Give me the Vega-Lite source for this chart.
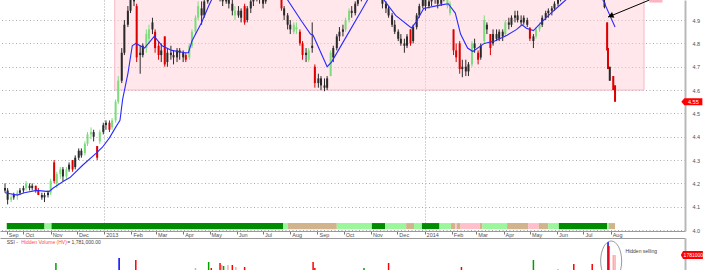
{
"$schema":"https://vega.github.io/schema/vega-lite/v6.json",
"padding":0,
"background":"white",
"spacing":7,
"bounds":"flush",
"config":{"view":{"stroke":null},"font":"Liberation Sans","axis":{"labelFont":"Liberation Sans","labelFontSize":5.5,"labelColor":"#505050","title":null}},
"resolve":{"scale":{"color":"independent"}},
"datasets":{
"ohlc":[
{"d":"2012-09-10","o":4.18,"h":4.20,"l":4.16,"c":4.17,"t":"k"},
{"d":"2012-09-13","o":4.17,"h":4.18,"l":4.11,"c":4.13,"t":"k"},
{"d":"2012-09-17","o":4.13,"h":4.15,"l":4.12,"c":4.14,"t":"g"},
{"d":"2012-09-20","o":4.14,"h":4.16,"l":4.13,"c":4.15,"t":"k"},
{"d":"2012-09-24","o":4.15,"h":4.17,"l":4.13,"c":4.16,"t":"g"},
{"d":"2012-09-27","o":4.16,"h":4.18,"l":4.15,"c":4.17,"t":"k"},
{"d":"2012-10-01","o":4.17,"h":4.19,"l":4.16,"c":4.18,"t":"k"},
{"d":"2012-10-04","o":4.18,"h":4.21,"l":4.17,"c":4.20,"t":"g"},
{"d":"2012-10-08","o":4.19,"h":4.20,"l":4.17,"c":4.18,"t":"k"},
{"d":"2012-10-11","o":4.18,"h":4.20,"l":4.17,"c":4.19,"t":"k"},
{"d":"2012-10-15","o":4.19,"h":4.19,"l":4.16,"c":4.17,"t":"r"},
{"d":"2012-10-18","o":4.17,"h":4.18,"l":4.15,"c":4.15,"t":"r"},
{"d":"2012-10-22","o":4.15,"h":4.16,"l":4.13,"c":4.14,"t":"k"},
{"d":"2012-10-25","o":4.14,"h":4.16,"l":4.12,"c":4.15,"t":"k"},
{"d":"2012-10-29","o":4.15,"h":4.17,"l":4.14,"c":4.16,"t":"k"},
{"d":"2012-11-01","o":4.16,"h":4.22,"l":4.15,"c":4.21,"t":"g"},
{"d":"2012-11-05","o":4.29,"h":4.30,"l":4.20,"c":4.21,"t":"r"},
{"d":"2012-11-08","o":4.20,"h":4.25,"l":4.18,"c":4.24,"t":"g"},
{"d":"2012-11-12","o":4.24,"h":4.27,"l":4.22,"c":4.26,"t":"g"},
{"d":"2012-11-15","o":4.26,"h":4.27,"l":4.21,"c":4.23,"t":"k"},
{"d":"2012-11-19","o":4.23,"h":4.27,"l":4.22,"c":4.26,"t":"g"},
{"d":"2012-11-22","o":4.26,"h":4.29,"l":4.25,"c":4.28,"t":"k"},
{"d":"2012-11-26","o":4.30,"h":4.30,"l":4.25,"c":4.26,"t":"r"},
{"d":"2012-11-29","o":4.27,"h":4.32,"l":4.26,"c":4.31,"t":"k"},
{"d":"2012-12-03","o":4.31,"h":4.35,"l":4.30,"c":4.34,"t":"k"},
{"d":"2012-12-06","o":4.34,"h":4.35,"l":4.31,"c":4.32,"t":"k"},
{"d":"2012-12-10","o":4.33,"h":4.38,"l":4.32,"c":4.37,"t":"g"},
{"d":"2012-12-13","o":4.37,"h":4.42,"l":4.36,"c":4.41,"t":"g"},
{"d":"2012-12-17","o":4.41,"h":4.44,"l":4.39,"c":4.42,"t":"g"},
{"d":"2012-12-20","o":4.42,"h":4.43,"l":4.38,"c":4.40,"t":"k"},
{"d":"2012-12-24","o":4.36,"h":4.36,"l":4.30,"c":4.31,"t":"r"},
{"d":"2012-12-27","o":4.38,"h":4.43,"l":4.37,"c":4.42,"t":"g"},
{"d":"2012-12-31","o":4.42,"h":4.46,"l":4.41,"c":4.45,"t":"k"},
{"d":"2013-01-03","o":4.45,"h":4.47,"l":4.43,"c":4.46,"t":"k"},
{"d":"2013-01-07","o":4.46,"h":4.47,"l":4.42,"c":4.43,"t":"r"},
{"d":"2013-01-10","o":4.44,"h":4.48,"l":4.43,"c":4.47,"t":"g"},
{"d":"2013-01-14","o":4.47,"h":4.56,"l":4.46,"c":4.55,"t":"g"},
{"d":"2013-01-17","o":4.55,"h":4.66,"l":4.54,"c":4.64,"t":"g"},
{"d":"2013-01-21","o":4.64,"h":4.78,"l":4.63,"c":4.76,"t":"k"},
{"d":"2013-01-24","o":4.76,"h":4.90,"l":4.75,"c":4.88,"t":"k"},
{"d":"2013-01-28","o":4.88,"h":4.96,"l":4.87,"c":4.94,"t":"k"},
{"d":"2013-01-31","o":4.94,"h":5.02,"l":4.93,"c":5.00,"t":"k"},
{"d":"2013-02-04","o":5.00,"h":5.05,"l":4.96,"c":4.98,"t":"k"},
{"d":"2013-02-07","o":4.96,"h":4.97,"l":4.72,"c":4.74,"t":"r"},
{"d":"2013-02-11","o":4.76,"h":4.79,"l":4.67,"c":4.75,"t":"k"},
{"d":"2013-02-14","o":4.75,"h":4.80,"l":4.74,"c":4.79,"t":"k"},
{"d":"2013-02-18","o":4.78,"h":4.86,"l":4.76,"c":4.84,"t":"g"},
{"d":"2013-02-21","o":4.82,"h":4.88,"l":4.80,"c":4.86,"t":"g"},
{"d":"2013-02-25","o":4.86,"h":4.91,"l":4.84,"c":4.89,"t":"k"},
{"d":"2013-02-28","o":4.85,"h":4.86,"l":4.76,"c":4.78,"t":"r"},
{"d":"2013-03-04","o":4.79,"h":4.81,"l":4.73,"c":4.75,"t":"r"},
{"d":"2013-03-07","o":4.75,"h":4.80,"l":4.72,"c":4.77,"t":"k"},
{"d":"2013-03-11","o":4.83,"h":4.83,"l":4.70,"c":4.71,"t":"r"},
{"d":"2013-03-14","o":4.72,"h":4.78,"l":4.70,"c":4.76,"t":"k"},
{"d":"2013-03-18","o":4.76,"h":4.79,"l":4.73,"c":4.75,"t":"k"},
{"d":"2013-03-21","o":4.75,"h":4.77,"l":4.71,"c":4.74,"t":"k"},
{"d":"2013-03-25","o":4.74,"h":4.78,"l":4.72,"c":4.77,"t":"k"},
{"d":"2013-03-28","o":4.77,"h":4.78,"l":4.73,"c":4.76,"t":"k"},
{"d":"2013-04-01","o":4.76,"h":4.77,"l":4.72,"c":4.74,"t":"k"},
{"d":"2013-04-04","o":4.75,"h":4.76,"l":4.72,"c":4.73,"t":"r"},
{"d":"2013-04-08","o":4.74,"h":4.80,"l":4.73,"c":4.79,"t":"g"},
{"d":"2013-04-11","o":4.79,"h":4.86,"l":4.78,"c":4.85,"t":"g"},
{"d":"2013-04-15","o":4.85,"h":4.92,"l":4.84,"c":4.91,"t":"g"},
{"d":"2013-04-18","o":4.91,"h":4.98,"l":4.90,"c":4.96,"t":"g"},
{"d":"2013-04-22","o":4.95,"h":4.98,"l":4.88,"c":4.92,"t":"k"},
{"d":"2013-04-25","o":4.92,"h":5.00,"l":4.91,"c":4.98,"t":"k"},
{"d":"2013-04-29","o":4.98,"h":5.06,"l":4.97,"c":5.04,"t":"k"},
{"d":"2013-05-02","o":5.04,"h":5.08,"l":5.01,"c":5.05,"t":"k"},
{"d":"2013-05-06","o":5.05,"h":5.08,"l":5.02,"c":5.04,"t":"k"},
{"d":"2013-05-09","o":5.04,"h":5.06,"l":5.00,"c":5.02,"t":"k"},
{"d":"2013-05-13","o":5.02,"h":5.04,"l":4.98,"c":5.00,"t":"k"},
{"d":"2013-05-16","o":5.00,"h":5.02,"l":4.96,"c":4.98,"t":"k"},
{"d":"2013-05-20","o":4.98,"h":5.03,"l":4.97,"c":5.01,"t":"k"},
{"d":"2013-05-23","o":5.01,"h":5.02,"l":4.95,"c":4.97,"t":"k"},
{"d":"2013-05-27","o":4.97,"h":4.99,"l":4.92,"c":4.94,"t":"k"},
{"d":"2013-05-30","o":4.94,"h":4.96,"l":4.90,"c":4.92,"t":"g"},
{"d":"2013-06-03","o":4.92,"h":4.96,"l":4.91,"c":4.94,"t":"k"},
{"d":"2013-06-06","o":4.94,"h":4.95,"l":4.89,"c":4.91,"t":"k"},
{"d":"2013-06-10","o":4.96,"h":4.97,"l":4.88,"c":4.89,"t":"r"},
{"d":"2013-06-13","o":4.90,"h":4.96,"l":4.89,"c":4.95,"t":"k"},
{"d":"2013-06-17","o":4.95,"h":4.99,"l":4.93,"c":4.98,"t":"k"},
{"d":"2013-06-20","o":4.98,"h":5.02,"l":4.96,"c":5.00,"t":"k"},
{"d":"2013-06-24","o":5.00,"h":5.04,"l":4.98,"c":5.02,"t":"k"},
{"d":"2013-06-27","o":5.02,"h":5.03,"l":4.97,"c":5.00,"t":"k"},
{"d":"2013-07-01","o":5.00,"h":5.01,"l":4.95,"c":4.97,"t":"k"},
{"d":"2013-07-04","o":4.98,"h":5.04,"l":4.97,"c":5.03,"t":"k"},
{"d":"2013-07-08","o":5.03,"h":5.08,"l":5.02,"c":5.06,"t":"k"},
{"d":"2013-07-11","o":5.06,"h":5.09,"l":5.04,"c":5.07,"t":"k"},
{"d":"2013-07-15","o":5.07,"h":5.08,"l":5.02,"c":5.04,"t":"k"},
{"d":"2013-07-18","o":5.04,"h":5.05,"l":5.00,"c":5.01,"t":"k"},
{"d":"2013-07-22","o":4.99,"h":5.00,"l":4.94,"c":4.95,"t":"r"},
{"d":"2013-07-25","o":4.95,"h":4.96,"l":4.90,"c":4.92,"t":"k"},
{"d":"2013-07-29","o":4.92,"h":4.93,"l":4.86,"c":4.88,"t":"k"},
{"d":"2013-08-01","o":4.88,"h":4.90,"l":4.84,"c":4.86,"t":"k"},
{"d":"2013-08-05","o":4.85,"h":4.89,"l":4.84,"c":4.88,"t":"g"},
{"d":"2013-08-08","o":4.86,"h":4.89,"l":4.84,"c":4.87,"t":"g"},
{"d":"2013-08-12","o":4.85,"h":4.86,"l":4.79,"c":4.80,"t":"r"},
{"d":"2013-08-15","o":4.80,"h":4.81,"l":4.73,"c":4.75,"t":"r"},
{"d":"2013-08-19","o":4.75,"h":4.78,"l":4.72,"c":4.76,"t":"k"},
{"d":"2013-08-22","o":4.73,"h":4.78,"l":4.72,"c":4.77,"t":"g"},
{"d":"2013-08-26","o":4.78,"h":4.89,"l":4.76,"c":4.79,"t":"k"},
{"d":"2013-08-29","o":4.70,"h":4.71,"l":4.61,"c":4.63,"t":"r"},
{"d":"2013-09-02","o":4.63,"h":4.67,"l":4.61,"c":4.65,"t":"k"},
{"d":"2013-09-05","o":4.65,"h":4.66,"l":4.60,"c":4.62,"t":"k"},
{"d":"2013-09-09","o":4.62,"h":4.65,"l":4.595,"c":4.61,"t":"k"},
{"d":"2013-09-12","o":4.61,"h":4.66,"l":4.60,"c":4.65,"t":"k"},
{"d":"2013-09-16","o":4.66,"h":4.77,"l":4.66,"c":4.76,"t":"g"},
{"d":"2013-09-19","o":4.74,"h":4.79,"l":4.72,"c":4.78,"t":"k"},
{"d":"2013-09-23","o":4.78,"h":4.84,"l":4.77,"c":4.83,"t":"k"},
{"d":"2013-09-26","o":4.83,"h":4.87,"l":4.81,"c":4.85,"t":"k"},
{"d":"2013-09-30","o":4.85,"h":4.88,"l":4.83,"c":4.86,"t":"k"},
{"d":"2013-10-03","o":4.86,"h":4.91,"l":4.85,"c":4.90,"t":"g"},
{"d":"2013-10-07","o":4.90,"h":4.95,"l":4.89,"c":4.94,"t":"g"},
{"d":"2013-10-10","o":4.94,"h":4.96,"l":4.91,"c":4.93,"t":"k"},
{"d":"2013-10-14","o":4.93,"h":4.98,"l":4.92,"c":4.97,"t":"k"},
{"d":"2013-10-17","o":4.97,"h":5.01,"l":4.96,"c":4.99,"t":"k"},
{"d":"2013-10-21","o":4.99,"h":5.05,"l":4.98,"c":5.03,"t":"k"},
{"d":"2013-10-24","o":5.03,"h":5.07,"l":5.01,"c":5.05,"t":"k"},
{"d":"2013-10-28","o":5.05,"h":5.09,"l":5.03,"c":5.07,"t":"k"},
{"d":"2013-10-31","o":5.07,"h":5.10,"l":5.05,"c":5.08,"t":"k"},
{"d":"2013-11-04","o":5.08,"h":5.10,"l":5.04,"c":5.06,"t":"k"},
{"d":"2013-11-07","o":5.06,"h":5.08,"l":5.02,"c":5.04,"t":"k"},
{"d":"2013-11-11","o":5.04,"h":5.06,"l":5.00,"c":5.01,"t":"k"},
{"d":"2013-11-14","o":5.01,"h":5.02,"l":4.95,"c":4.97,"t":"k"},
{"d":"2013-11-18","o":4.97,"h":4.98,"l":4.93,"c":4.95,"t":"k"},
{"d":"2013-11-21","o":4.95,"h":4.96,"l":4.91,"c":4.92,"t":"k"},
{"d":"2013-11-25","o":4.92,"h":4.93,"l":4.87,"c":4.88,"t":"k"},
{"d":"2013-11-28","o":4.88,"h":4.90,"l":4.84,"c":4.85,"t":"k"},
{"d":"2013-12-02","o":4.85,"h":4.86,"l":4.81,"c":4.82,"t":"k"},
{"d":"2013-12-05","o":4.82,"h":4.84,"l":4.79,"c":4.80,"t":"k"},
{"d":"2013-12-09","o":4.80,"h":4.82,"l":4.76,"c":4.79,"t":"k"},
{"d":"2013-12-12","o":4.79,"h":4.84,"l":4.78,"c":4.83,"t":"k"},
{"d":"2013-12-16","o":4.86,"h":4.86,"l":4.79,"c":4.80,"t":"r"},
{"d":"2013-12-19","o":4.81,"h":4.88,"l":4.80,"c":4.87,"t":"k"},
{"d":"2013-12-23","o":4.87,"h":4.93,"l":4.86,"c":4.92,"t":"k"},
{"d":"2013-12-26","o":4.92,"h":4.97,"l":4.91,"c":4.96,"t":"k"},
{"d":"2013-12-30","o":4.96,"h":5.00,"l":4.95,"c":4.99,"t":"k"},
{"d":"2014-01-02","o":4.99,"h":5.01,"l":4.94,"c":4.96,"t":"k"},
{"d":"2014-01-06","o":4.96,"h":5.00,"l":4.95,"c":4.98,"t":"k"},
{"d":"2014-01-09","o":4.98,"h":5.02,"l":4.96,"c":5.00,"t":"k"},
{"d":"2014-01-13","o":5.00,"h":5.03,"l":4.97,"c":4.99,"t":"k"},
{"d":"2014-01-16","o":4.99,"h":5.01,"l":4.95,"c":4.97,"t":"k"},
{"d":"2014-01-20","o":4.97,"h":5.02,"l":4.96,"c":5.01,"t":"k"},
{"d":"2014-01-23","o":5.01,"h":5.03,"l":4.98,"c":5.00,"t":"k"},
{"d":"2014-01-27","o":4.96,"h":5.00,"l":4.95,"c":4.99,"t":"g"},
{"d":"2014-01-30","o":4.93,"h":4.98,"l":4.92,"c":4.97,"t":"g"},
{"d":"2014-02-03","o":4.86,"h":4.86,"l":4.75,"c":4.77,"t":"r"},
{"d":"2014-02-06","o":4.77,"h":4.80,"l":4.72,"c":4.74,"t":"r"},
{"d":"2014-02-10","o":4.80,"h":4.81,"l":4.67,"c":4.69,"t":"r"},
{"d":"2014-02-13","o":4.69,"h":4.73,"l":4.655,"c":4.70,"t":"k"},
{"d":"2014-02-17","o":4.70,"h":4.73,"l":4.66,"c":4.68,"t":"k"},
{"d":"2014-02-20","o":4.68,"h":4.72,"l":4.66,"c":4.71,"t":"k"},
{"d":"2014-02-24","o":4.71,"h":4.81,"l":4.70,"c":4.80,"t":"g"},
{"d":"2014-02-27","o":4.80,"h":4.82,"l":4.76,"c":4.78,"t":"k"},
{"d":"2014-03-03","o":4.76,"h":4.77,"l":4.71,"c":4.73,"t":"r"},
{"d":"2014-03-06","o":4.74,"h":4.80,"l":4.73,"c":4.79,"t":"k"},
{"d":"2014-03-10","o":4.81,"h":4.92,"l":4.80,"c":4.90,"t":"g"},
{"d":"2014-03-13","o":4.88,"h":4.89,"l":4.84,"c":4.86,"t":"k"},
{"d":"2014-03-17","o":4.84,"h":4.84,"l":4.75,"c":4.78,"t":"r"},
{"d":"2014-03-20","o":4.80,"h":4.86,"l":4.79,"c":4.84,"t":"k"},
{"d":"2014-03-24","o":4.84,"h":4.86,"l":4.81,"c":4.82,"t":"k"},
{"d":"2014-03-27","o":4.82,"h":4.86,"l":4.81,"c":4.85,"t":"k"},
{"d":"2014-03-31","o":4.85,"h":4.86,"l":4.81,"c":4.83,"t":"k"},
{"d":"2014-04-03","o":4.84,"h":4.90,"l":4.83,"c":4.89,"t":"g"},
{"d":"2014-04-07","o":4.89,"h":4.91,"l":4.86,"c":4.88,"t":"k"},
{"d":"2014-04-10","o":4.88,"h":4.92,"l":4.87,"c":4.91,"t":"k"},
{"d":"2014-04-14","o":4.91,"h":4.94,"l":4.89,"c":4.92,"t":"k"},
{"d":"2014-04-17","o":4.92,"h":4.94,"l":4.89,"c":4.90,"t":"k"},
{"d":"2014-04-21","o":4.90,"h":4.92,"l":4.88,"c":4.89,"t":"k"},
{"d":"2014-04-24","o":4.89,"h":4.92,"l":4.88,"c":4.91,"t":"k"},
{"d":"2014-04-28","o":4.90,"h":4.91,"l":4.87,"c":4.88,"t":"k"},
{"d":"2014-05-01","o":4.865,"h":4.87,"l":4.81,"c":4.82,"t":"r"},
{"d":"2014-05-05","o":4.81,"h":4.84,"l":4.78,"c":4.83,"t":"k"},
{"d":"2014-05-08","o":4.83,"h":4.87,"l":4.82,"c":4.86,"t":"g"},
{"d":"2014-05-12","o":4.86,"h":4.89,"l":4.85,"c":4.88,"t":"g"},
{"d":"2014-05-15","o":4.88,"h":4.92,"l":4.87,"c":4.91,"t":"k"},
{"d":"2014-05-19","o":4.91,"h":4.94,"l":4.90,"c":4.93,"t":"k"},
{"d":"2014-05-22","o":4.93,"h":4.95,"l":4.91,"c":4.94,"t":"k"},
{"d":"2014-05-26","o":4.94,"h":4.96,"l":4.92,"c":4.95,"t":"k"},
{"d":"2014-05-29","o":4.95,"h":4.98,"l":4.94,"c":4.97,"t":"k"},
{"d":"2014-06-02","o":4.97,"h":5.00,"l":4.96,"c":4.99,"t":"k"},
{"d":"2014-06-05","o":4.99,"h":5.03,"l":4.98,"c":5.02,"t":"k"},
{"d":"2014-06-09","o":5.02,"h":5.06,"l":5.00,"c":5.05,"t":"k"},
{"d":"2014-06-12","o":5.05,"h":5.08,"l":5.03,"c":5.06,"t":"k"},
{"d":"2014-06-16","o":5.06,"h":5.09,"l":5.04,"c":5.07,"t":"k"},
{"d":"2014-06-19","o":5.07,"h":5.10,"l":5.05,"c":5.08,"t":"k"},
{"d":"2014-06-23","o":5.08,"h":5.11,"l":5.06,"c":5.09,"t":"k"},
{"d":"2014-06-26","o":5.09,"h":5.12,"l":5.07,"c":5.10,"t":"k"},
{"d":"2014-06-30","o":5.10,"h":5.12,"l":5.07,"c":5.08,"t":"k"},
{"d":"2014-07-03","o":5.08,"h":5.11,"l":5.06,"c":5.10,"t":"k"},
{"d":"2014-07-07","o":5.10,"h":5.13,"l":5.08,"c":5.11,"t":"k"},
{"d":"2014-07-10","o":5.11,"h":5.12,"l":5.07,"c":5.08,"t":"k"},
{"d":"2014-07-14","o":5.08,"h":5.10,"l":5.05,"c":5.06,"t":"k"},
{"d":"2014-07-17","o":5.06,"h":5.08,"l":5.02,"c":5.04,"t":"k"},
{"d":"2014-07-21","o":5.04,"h":5.06,"l":5.00,"c":5.02,"t":"k"},
{"d":"2014-07-24","o":5.02,"h":5.04,"l":4.99,"c":5.01,"t":"k"},
{"d":"2014-07-25","o":4.975,"h":4.99,"l":4.95,"c":4.955,"t":"k"},
{"d":"2014-07-28","o":4.89,"h":4.89,"l":4.77,"c":4.77,"t":"r"},
{"d":"2014-07-29","o":4.78,"h":4.78,"l":4.69,"c":4.69,"t":"r"},
{"d":"2014-07-31","o":4.70,"h":4.70,"l":4.64,"c":4.64,"t":"k"},
{"d":"2014-08-04","o":4.66,"h":4.66,"l":4.60,"c":4.60,"t":"r"},
{"d":"2014-08-06","o":4.62,"h":4.62,"l":4.55,"c":4.55,"t":"r"}
],
"ma":[
{"d":"2012-09-10","v":4.16},{"d":"2012-09-24","v":4.15},{"d":"2012-10-02","v":4.16},{"d":"2012-10-16","v":4.17},{"d":"2012-10-30","v":4.165},{"d":"2012-11-04","v":4.18},{"d":"2012-11-16","v":4.21},{"d":"2012-11-23","v":4.225},{"d":"2012-12-08","v":4.28},{"d":"2012-12-23","v":4.33},{"d":"2012-12-30","v":4.355},{"d":"2013-01-07","v":4.395},{"d":"2013-01-14","v":4.44},{"d":"2013-01-19","v":4.47},{"d":"2013-01-22","v":4.56},{"d":"2013-01-28","v":4.67},{"d":"2013-02-02","v":4.79},{"d":"2013-02-06","v":4.80},{"d":"2013-02-16","v":4.78},{"d":"2013-02-27","v":4.83},{"d":"2013-03-08","v":4.79},{"d":"2013-03-19","v":4.77},{"d":"2013-04-03","v":4.76},{"d":"2013-04-07","v":4.76},{"d":"2013-04-11","v":4.81},{"d":"2013-04-22","v":4.89},{"d":"2013-04-30","v":4.96},{"d":"2013-05-05","v":5.00},{"d":"2013-05-26","v":5.05},{"d":"2013-06-29","v":5.06},{"d":"2013-07-21","v":5.02},{"d":"2013-07-29","v":4.986},{"d":"2013-08-13","v":4.90},{"d":"2013-08-24","v":4.84},{"d":"2013-08-27","v":4.835},{"d":"2013-09-12","v":4.70},{"d":"2013-09-17","v":4.72},{"d":"2013-10-04","v":4.83},{"d":"2013-10-21","v":4.94},{"d":"2013-10-28","v":4.986},{"d":"2013-11-05","v":5.02},{"d":"2013-11-15","v":4.99},{"d":"2013-11-29","v":4.92},{"d":"2013-12-17","v":4.866},{"d":"2013-12-22","v":4.89},{"d":"2013-12-31","v":4.95},{"d":"2014-01-20","v":4.965},{"d":"2014-01-28","v":4.97},{"d":"2014-02-05","v":4.93},{"d":"2014-02-11","v":4.84},{"d":"2014-02-19","v":4.78},{"d":"2014-02-25","v":4.765},{"d":"2014-03-10","v":4.80},{"d":"2014-03-22","v":4.81},{"d":"2014-04-05","v":4.835},{"d":"2014-04-16","v":4.86},{"d":"2014-04-22","v":4.88},{"d":"2014-04-27","v":4.865},{"d":"2014-05-05","v":4.855},{"d":"2014-05-14","v":4.89},{"d":"2014-05-25","v":4.93},{"d":"2014-06-06","v":4.97},{"d":"2014-06-12","v":4.99},{"d":"2014-06-28","v":5.04},{"d":"2014-07-15","v":5.05},{"d":"2014-07-24","v":4.98},{"d":"2014-08-06","v":4.87}
],
"strip":[
{"s":"dg","d":"2012-09-12","e":"2012-10-25"},{"s":"lg","d":"2012-10-25","e":"2012-11-02"},{"s":"dg","d":"2012-11-02","e":"2013-07-24"},{"s":"lg","d":"2013-07-24","e":"2013-07-29"},{"s":"tan","d":"2013-07-29","e":"2013-09-23"},{"s":"lg","d":"2013-09-23","e":"2013-11-02"},{"s":"dg","d":"2013-11-02","e":"2013-11-17"},{"s":"lg","d":"2013-11-17","e":"2013-12-11"},{"s":"tan","d":"2013-12-11","e":"2013-12-20"},{"s":"lg","d":"2013-12-20","e":"2013-12-29"},{"s":"dg","d":"2013-12-29","e":"2014-01-18"},{"s":"lg","d":"2014-01-18","e":"2014-01-31"},{"s":"tan","d":"2014-01-31","e":"2014-02-05"},{"s":"pink","d":"2014-02-05","e":"2014-02-07"},{"s":"tan","d":"2014-02-07","e":"2014-02-11"},{"s":"pink","d":"2014-02-11","e":"2014-03-05"},{"s":"tan","d":"2014-03-05","e":"2014-03-08"},{"s":"lg","d":"2014-03-08","e":"2014-04-05"},{"s":"tan","d":"2014-04-05","e":"2014-04-29"},{"s":"pink","d":"2014-04-29","e":"2014-05-11"},{"s":"tan","d":"2014-05-11","e":"2014-05-22"},{"s":"lg","d":"2014-05-22","e":"2014-06-03"},{"s":"dg","d":"2014-06-03","e":"2014-07-28"},{"s":"lg","d":"2014-07-28","e":"2014-07-30"},{"s":"tan","d":"2014-07-30","e":"2014-08-06"}
],
"vol":[
{"d":"2012-11-07","v":831000,"t":"g"},{"d":"2013-01-18","v":1425000,"t":"b"},{"d":"2013-02-06","v":1190000,"t":"r"},{"d":"2013-04-15","v":240000,"t":"y"},{"d":"2013-04-30","v":950000,"t":"g"},{"d":"2013-05-03","v":240000,"t":"r"},{"d":"2013-05-13","v":831000,"t":"r"},{"d":"2013-05-15","v":594000,"t":"p"},{"d":"2013-05-17","v":475000,"t":"g"},{"d":"2013-05-22","v":594000,"t":"p"},{"d":"2013-05-27","v":594000,"t":"r"},{"d":"2013-05-31","v":356000,"t":"p"},{"d":"2013-06-10","v":356000,"t":"r"},{"d":"2013-08-27","v":950000,"t":"r"},{"d":"2013-08-29","v":240000,"t":"r"},{"d":"2013-10-24","v":240000,"t":"g"},{"d":"2013-11-21","v":831000,"t":"r"},{"d":"2014-02-12","v":356000,"t":"r"},{"d":"2014-05-05","v":1190000,"t":"g"},{"d":"2014-06-02","v":119000,"t":"y"},{"d":"2014-06-20","v":712000,"t":"r"},{"d":"2014-07-11","v":712000,"t":"r"},{"d":"2014-07-29","v":3325000,"t":"b"},{"d":"2014-07-30","v":2850000,"t":"r"},{"d":"2014-08-04","v":1781000,"t":"p"},{"d":"2014-08-06","v":1781000,"t":"p"}
],
"zone":[{"d":"2013-01-13","e":"2014-09-08","lo":4.6,"hi":5.3}],
"arrow":[{"d":"2014-07-29","v":4.913},{"d":"2014-10-12","v":5.029}],
"head":[{"d":"2014-08-01","v":4.918}],
"gapbox":[{"d":"2014-09-14","e":"2014-09-29","lo":4.975,"hi":5.05}],
"ptag":[{"d":"2014-11-01T12:00:00Z","v":4.55,"lab":"4.55"}]
},
"vconcat":[
{
"width":685,"height":231,
"layer":[
{
"encoding":{
 "x":{"field":"d","type":"temporal","scale":{"type":"utc","domain":[{"year":2012,"month":9,"date":10,"utc":true},{"year":2014,"month":10,"date":19,"utc":true}]},
  "axis":{"orient":"bottom","values":[{"year":2012,"month":9,"date":12,"utc":true},{"year":2012,"month":10,"date":1,"utc":true},{"year":2012,"month":11,"date":1,"utc":true},{"year":2012,"month":12,"date":1,"utc":true},{"year":2013,"month":1,"date":1,"utc":true},{"year":2013,"month":2,"date":1,"utc":true},{"year":2013,"month":3,"date":1,"utc":true},{"year":2013,"month":4,"date":1,"utc":true},{"year":2013,"month":5,"date":1,"utc":true},{"year":2013,"month":6,"date":1,"utc":true},{"year":2013,"month":7,"date":1,"utc":true},{"year":2013,"month":8,"date":1,"utc":true},{"year":2013,"month":9,"date":1,"utc":true},{"year":2013,"month":10,"date":1,"utc":true},{"year":2013,"month":11,"date":1,"utc":true},{"year":2013,"month":12,"date":1,"utc":true},{"year":2014,"month":1,"date":1,"utc":true},{"year":2014,"month":2,"date":1,"utc":true},{"year":2014,"month":3,"date":1,"utc":true},{"year":2014,"month":4,"date":1,"utc":true},{"year":2014,"month":5,"date":1,"utc":true},{"year":2014,"month":6,"date":1,"utc":true},{"year":2014,"month":7,"date":1,"utc":true},{"year":2014,"month":8,"date":1,"utc":true}],
   "labelExpr":"utcmonth(datum.value) === 0 ? utcFormat(datum.value, '%Y') : utcFormat(datum.value, '%b')",
   "labelAlign":"left","labelBaseline":"top","labelOffset":1.5,"labelPadding":-2,"labelOverlap":false,"labelFlush":false,
   "tickSize":3,"tickColor":"#777777","domainColor":"#999999","domainWidth":1,
   "grid":true,"gridDash":[1,2],"gridColor":"#a8a8a8",
   "gridOpacity":{"condition":{"test":"utcmonth(datum.value) === 0","value":1},"value":0}}},
 "y":{"field":"v","type":"quantitative","scale":{"domain":[3.996,4.986],"nice":false,"zero":false},
  "axis":{"orient":"right","values":[4.0,4.1,4.2,4.3,4.4,4.5,4.6,4.7,4.8,4.9],"format":".1f","ticks":false,"labelPadding":7,"labelOverlap":false,
   "domainColor":"#b8b8b8","domainWidth":2,"grid":true,"gridDash":[1,2.5],"gridColor":"#ababab"}}
},
"layer":[
{"data":{"name":"zone"},
 "mark":{"type":"rect","fill":"#ffd0d8","fillOpacity":0.5,"stroke":"#f7b8c4","strokeWidth":1,"strokeOpacity":1,"clip":true},
 "encoding":{"x2":{"field":"e"},"y":{"field":"lo","type":"quantitative"},"y2":{"field":"hi"}}},
{"data":{"name":"ohlc"},
 "mark":{"type":"rule","strokeWidth":1,"opacity":1,"clip":true},
 "encoding":{
  "y":{"field":"l","type":"quantitative"},
  "y2":{"field":"h"},
  "color":{"field":"t","type":"nominal","legend":null,"scale":{"domain":["g","r","k","dg","lg","tan","pink"],"range":["#7cdc7c","#dd0000","#2a2a2a","#008c00","#9cf79c","#d2b48c","#ffc0cb"]}}}},
{"data":{"name":"ohlc"},
 "mark":{"type":"bar","width":2,"opacity":1,"clip":true},
 "encoding":{
  "y":{"field":"o","type":"quantitative"},
  "y2":{"field":"c"},
  "color":{"field":"t","type":"nominal","legend":null,"scale":{"domain":["g","r","k","dg","lg","tan","pink"],"range":["#7cdc7c","#dd0000","#2a2a2a","#008c00","#9cf79c","#d2b48c","#ffc0cb"]}}}},
{"data":{"name":"ma"},
 "mark":{"type":"line","color":"#2a2aff","strokeWidth":1.1,"clip":true},
 "encoding":{}},
{"data":{"name":"arrow"},
 "mark":{"type":"line","color":"#000000","strokeWidth":1,"clip":true},
 "encoding":{}},
{"data":{"name":"head"},
 "mark":{"type":"point","shape":"triangle-up","angle":248,"size":40,"filled":true,"color":"#000000","opacity":1}},
{"data":{"name":"gapbox"},
 "mark":{"type":"rect","fill":"#ffb3c1","opacity":1,"clip":true},
 "encoding":{"x2":{"field":"e"},"y":{"field":"lo","type":"quantitative"},"y2":{"field":"hi"}}},
{"data":{"name":"ptag"},
 "mark":{"type":"point","shape":"M-1,0L-0.72,-0.34L1,-0.34L1,0.34L-0.72,0.34Z","size":441,"filled":true,"color":"#ff0000","opacity":1,"strokeWidth":0}},
{"data":{"name":"ptag"},
 "mark":{"type":"text","color":"#ffffff","fontSize":5.5,"align":"center","baseline":"middle","dx":1.5,"font":"Liberation Sans"},
 "encoding":{"text":{"field":"lab"}}}
]
},
{"data":{"name":"strip"},
 "mark":{"type":"rect","opacity":1},
 "encoding":{
  "x":{"field":"d","type":"temporal","scale":{"type":"utc","domain":[{"year":2012,"month":9,"date":10,"utc":true},{"year":2014,"month":10,"date":19,"utc":true}]},
   "axis":{"orient":"bottom","values":[{"year":2012,"month":9,"date":12,"utc":true},{"year":2012,"month":10,"date":1,"utc":true},{"year":2012,"month":11,"date":1,"utc":true},{"year":2012,"month":12,"date":1,"utc":true},{"year":2013,"month":1,"date":1,"utc":true},{"year":2013,"month":2,"date":1,"utc":true},{"year":2013,"month":3,"date":1,"utc":true},{"year":2013,"month":4,"date":1,"utc":true},{"year":2013,"month":5,"date":1,"utc":true},{"year":2013,"month":6,"date":1,"utc":true},{"year":2013,"month":7,"date":1,"utc":true},{"year":2013,"month":8,"date":1,"utc":true},{"year":2013,"month":9,"date":1,"utc":true},{"year":2013,"month":10,"date":1,"utc":true},{"year":2013,"month":11,"date":1,"utc":true},{"year":2013,"month":12,"date":1,"utc":true},{"year":2014,"month":1,"date":1,"utc":true},{"year":2014,"month":2,"date":1,"utc":true},{"year":2014,"month":3,"date":1,"utc":true},{"year":2014,"month":4,"date":1,"utc":true},{"year":2014,"month":5,"date":1,"utc":true},{"year":2014,"month":6,"date":1,"utc":true},{"year":2014,"month":7,"date":1,"utc":true},{"year":2014,"month":8,"date":1,"utc":true}],
    "labelExpr":"utcmonth(datum.value) === 0 ? utcFormat(datum.value, '%Y') : utcFormat(datum.value, '%b')",
    "labelAlign":"left","labelBaseline":"top","labelOffset":1.5,"labelPadding":-2,"labelOverlap":false,"labelFlush":false,
    "tickSize":3,"tickColor":"#777777","domainColor":"#999999","domainWidth":1,
    "grid":true,"gridDash":[1,2],"gridColor":"#a8a8a8",
    "gridOpacity":{"condition":{"test":"utcmonth(datum.value) === 0","value":1},"value":0}}},
  "x2":{"field":"e"},
  "y":{"datum":4.004,"type":"quantitative","scale":{"domain":[3.996,4.986],"nice":false,"zero":false},
   "axis":{"orient":"right","values":[4.0,4.1,4.2,4.3,4.4,4.5,4.6,4.7,4.8,4.9],"format":".1f","ticks":false,"labelPadding":7,"labelOverlap":false,
    "domainColor":"#b8b8b8","domainWidth":2,"grid":true,"gridDash":[1,2.5],"gridColor":"#ababab"}},
  "y2":{"datum":4.03},
  "color":{"field":"s","type":"nominal","legend":null,"scale":{"domain":["g","r","k","dg","lg","tan","pink"],"range":["#7cdc7c","#dd0000","#2a2a2a","#008c00","#9cf79c","#d2b48c","#ffc0cb"]}}}}
]
},
{
"width":685,"height":32,
"encoding":{
 "x":{"field":"d","type":"temporal","scale":{"type":"utc","domain":[{"year":2012,"month":9,"date":10,"utc":true},{"year":2014,"month":10,"date":19,"utc":true}]},
  "axis":{"orient":"top","labels":false,"ticks":false,"grid":false,"domainColor":"#999999","domainWidth":1}},
 "y":{"field":"v","type":"quantitative","scale":{"domain":[0,3800000],"nice":false},
  "axis":{"orient":"right","labels":false,"ticks":false,"grid":false,"domainColor":"#b8b8b8","domainWidth":2}}
},
"layer":[
{"data":{"name":"vol"},
 "mark":{"type":"bar","width":1.5,"opacity":1,"clip":true},
 "encoding":{
  "color":{"field":"t","type":"nominal","legend":null,"scale":{"domain":["b","r","g","p","y"],"range":["#0000ff","#ff0000","#00a000","#ffa8a8","#bbbbbb"]}}}},
{"data":{"values":[{"d":"2012-09-12","v":3325000,"a":"SSI - ","b":"Hidden Volume (HV)","c":"= 1,781,000.00"}]},
 "layer":[
  {"mark":{"type":"text","color":"#404040","fontSize":5,"align":"left","baseline":"middle","font":"Liberation Sans"},"encoding":{"text":{"field":"a"}}},
  {"mark":{"type":"text","color":"#ff4a4a","fontSize":5,"align":"left","baseline":"middle","dx":14.5,"font":"Liberation Sans"},"encoding":{"text":{"field":"b"}}},
  {"mark":{"type":"text","color":"#404040","fontSize":5,"align":"left","baseline":"middle","dx":60.5,"font":"Liberation Sans"},"encoding":{"text":{"field":"c"}}}
 ]},
{"data":{"values":[{"d":"2014-08-18","v":2290000,"lab":"Hidden selling"}]},
 "mark":{"type":"text","color":"#404040","fontSize":5,"align":"left","baseline":"middle","font":"Liberation Sans"},
 "encoding":{"text":{"field":"lab"}}},
{"data":{"values":[{"d":"2014-08-01T14:00:00Z","v":1070000}]},
 "mark":{"type":"point","shape":"M-0.525,0A0.525,1,0,1,0,0.525,0A0.525,1,0,1,0,-0.525,0Z","size":1600,"filled":false,"color":"#808080","strokeWidth":0.8,"opacity":1,"clip":true}},
{"data":{"values":[{"d":"2014-11-01T12:00:00Z","v":1781000,"lab":"1781000"}]},
 "layer":[
  {"mark":{"type":"point","shape":"M-1,0L-0.8,-0.36L1,-0.36L1,0.36L-0.8,0.36Z","size":484,"filled":true,"color":"#ff0000","opacity":1,"strokeWidth":0}},
  {"mark":{"type":"text","color":"#ffffff","fontSize":5,"align":"center","baseline":"middle","dx":1.5,"font":"Liberation Sans"},"encoding":{"text":{"field":"lab"}}}
 ]}
]
}
]
}
